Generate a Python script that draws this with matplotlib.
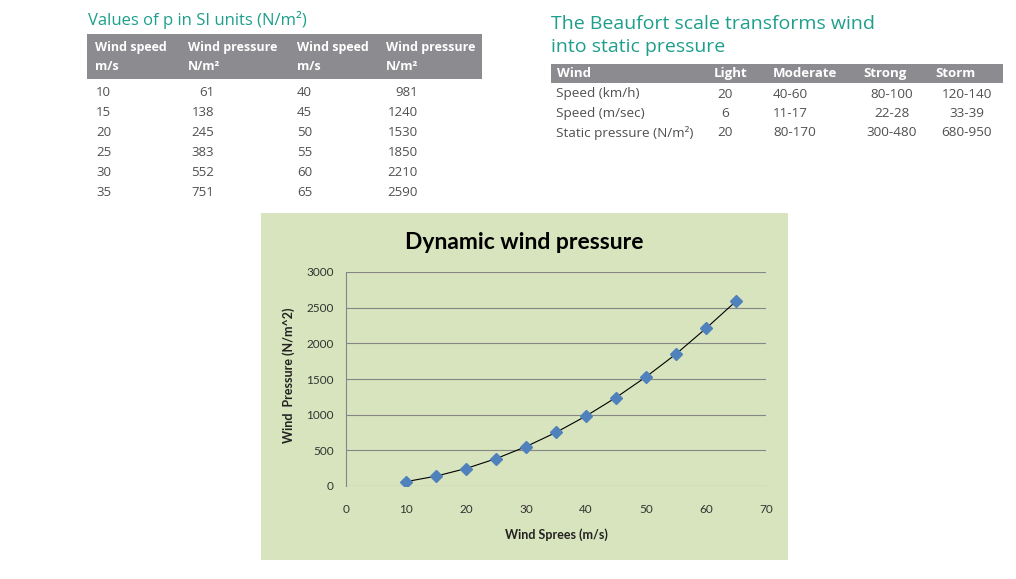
import matplotlib
matplotlib.use("Agg")
import matplotlib.pyplot as plt
from matplotlib.patches import Rectangle

# ---------------- data ----------------
wind_speed = [10, 15, 20, 25, 30, 35, 40, 45, 50, 55, 60, 65]
wind_pressure = [61, 138, 245, 383, 552, 751, 981, 1240, 1530, 1850, 2210, 2590]

beaufort_cols = ["Wind", "Light", "Moderate", "Strong", "Storm"]
beaufort_rows = ["Speed (km/h)", "Speed (m/sec)", "Static pressure (N/m²)"]
beaufort_light = ["20", "6", "20"]
beaufort_moderate = ["40-60", "11-17", "80-170"]
beaufort_strong = ["80-100", "22-28", "300-480"]
beaufort_storm = ["120-140", "33-39", "680-950"]

x_ticks = [0, 10, 20, 30, 40, 50, 60, 70]
y_ticks = [0, 500, 1000, 1500, 2000, 2500, 3000]

W, H = 1016, 579
fig = plt.figure(figsize=(W / 100, H / 100), dpi=100)
fig.patch.set_facecolor("white")

def fx(px):
    return px / W

def fy(py):
    return 1 - py / H

TEAL = "#1e9e8c"
HDR = "#8c8c90"
BODY = "#505050"
tfont = "Open Sans"

# ---------------- left table ----------------
fig.text(fx(88), fy(20), "Values of p in SI units (N/m²)", color=TEAL,
         fontsize=12, family=tfont, va="center", ha="left")
fig.patches.append(Rectangle((fx(87), fy(79)), fx(482) - fx(87), fy(34) - fy(79),
                             transform=fig.transFigure, facecolor=HDR,
                             edgecolor="none", zorder=-5))
hdr_x = [95, 188, 297, 386]
hdr_l1 = ["Wind speed", "Wind pressure", "Wind speed", "Wind pressure"]
hdr_l2 = ["m/s", "N/m²", "m/s", "N/m²"]
for x, a, b in zip(hdr_x, hdr_l1, hdr_l2):
    fig.text(fx(x), fy(48), a, color="white", fontsize=9, fontweight="bold",
             family=tfont, va="center", ha="left")
    fig.text(fx(x), fy(67), b, color="white", fontsize=9, fontweight="bold",
             family=tfont, va="center", ha="left")
half = len(wind_speed) // 2
for i in range(half):
    y = 92 + 20 * i
    fig.text(fx(96), fy(y), str(wind_speed[i]), color=BODY, fontsize=9.5,
             family=tfont, va="center", ha="left")
    fig.text(fx(214), fy(y), str(wind_pressure[i]), color=BODY, fontsize=9.5,
             family=tfont, va="center", ha="right")
    fig.text(fx(297), fy(y), str(wind_speed[half + i]), color=BODY, fontsize=9.5,
             family=tfont, va="center", ha="left")
    fig.text(fx(418), fy(y), str(wind_pressure[half + i]), color=BODY, fontsize=9.5,
             family=tfont, va="center", ha="right")

# ---------------- right table ----------------
fig.text(fx(551), fy(24), "The Beaufort scale transforms wind", color=TEAL,
         fontsize=14, family=tfont, va="center", ha="left")
fig.text(fx(551), fy(47), "into static pressure", color=TEAL,
         fontsize=14, family=tfont, va="center", ha="left")
fig.patches.append(Rectangle((fx(551), fy(83)), fx(1003) - fx(551), fy(64) - fy(83),
                             transform=fig.transFigure, facecolor=HDR,
                             edgecolor="none", zorder=-5))
col_x = [556, 725, 773, 892, 967]
col_ha = ["left", "center", "left", "center", "center"]
hdr_pos = [557, 714, 773, 863, 935]
for x, name in zip(hdr_pos, beaufort_cols):
    fig.text(fx(x), fy(74), name, color="white", fontsize=9.5, fontweight="bold",
             family=tfont, va="center", ha="left")
cols = [beaufort_rows, beaufort_light, beaufort_moderate, beaufort_strong, beaufort_storm]
for r in range(len(beaufort_rows)):
    y = 94 + 19.5 * r
    for c, vals in enumerate(cols):
        fig.text(fx(col_x[c]), fy(y), vals[r], color=BODY, fontsize=9.7, family=tfont,
                 va="center", ha=col_ha[c])

# ---------------- chart ----------------
GREEN = "#d7e4bd"
fig.patches.append(Rectangle((fx(261), fy(560)), fx(788) - fx(261), fy(213) - fy(560),
                             transform=fig.transFigure, facecolor=GREEN,
                             edgecolor="none", zorder=-5))
ax = fig.add_axes([fx(346), fy(486), fx(766) - fx(346), fy(272) - fy(486)])
ax.set_zorder(5)
ax.patch.set_alpha(0)
ax.set_xlim(0, 70)
ax.set_ylim(0, 3000)
ax.set_xticks(x_ticks)
ax.set_yticks(y_ticks)
for s in ["top", "right", "bottom"]:
    ax.spines[s].set_visible(False)
ax.spines["left"].set_color("#868686")
ax.spines["left"].set_linewidth(0.8)
ax.grid(axis="y", color="#868686", linewidth=0.8)
ax.set_axisbelow(True)
ax.tick_params(length=0, labelsize=8.5, labelcolor="#333333")
ax.tick_params(axis="x", pad=13)
ax.tick_params(axis="y", pad=9)
for lab in ax.get_xticklabels() + ax.get_yticklabels():
    lab.set_family("Lato")
ax.plot(wind_speed, wind_pressure, color="black", linewidth=0.8, zorder=2)
ax.plot(wind_speed, wind_pressure, linestyle="none", marker="D", markersize=6.5,
        color="#4f81bd", zorder=3)

fig.text(fx(524), fy(243), "Dynamic wind pressure", fontsize=16.5, fontweight="bold",
         family="Lato", color="black", ha="center", va="center")
fig.text(fx(556), fy(535), "Wind Sprees (m/s)", fontsize=9, fontweight="bold",
         family="Lato", color="#222222", ha="center", va="center")
fig.text(fx(289), fy(375), "Wind  Pressure (N/m^2)", fontsize=9, fontweight="bold",
         family="Lato", color="#222222", ha="center", va="center", rotation=90)

fig.savefig("out.png", dpi=100, facecolor="white")
